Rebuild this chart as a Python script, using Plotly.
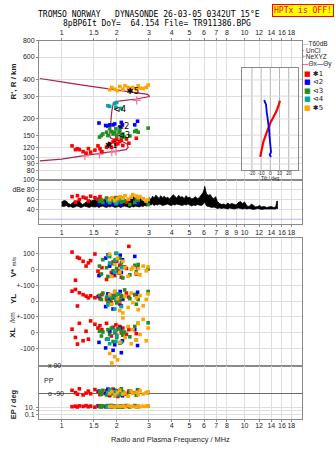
import numpy as np
import plotly.graph_objects as go

W, H = 335, 451

# ---------------- data ----------------
F_MIN, F_MAX = 0.752, 20.6

top_ticks = [1, 1.5, 2, 3, 4, 5, 6, 7, 8, 10, 12, 14, 16, 18]
mid_ticks = [1, 1.5, 2, 3, 4, 5, 6, 7, 8, 9, 10, 12, 14, 16, 18]
height_ticks = [80, 90, 100, 120, 150, 200, 300, 400, 600, 800]
tilt_ticks = [-20, -10, 0, 10, 20]
pp_ticks = [90, -90]
pp_labels = ["x 90", "o -90"]
TILT_MIN, TILT_MAX = -30.8, 30.1
INSET_H_MIN, INSET_H_MAX = 81, 498
PP_MIN, PP_MAX = -258, 91.3

# model virtual-height trace
trace_f = [0.76, 1.0, 1.3, 1.6, 1.9, 2.1, 2.25, 2.31, 2.28, 2.15, 1.95, 1.85, 1.83, 1.85, 1.88,
           1.92, 2.1, 2.56, 2.9, 3.03, 2.95, 2.8, 2.5, 2.2, 1.9, 1.6, 1.3, 1.0, 0.76]
trace_h = [95, 98, 104, 108, 112, 114, 116, 121, 128, 134, 137, 143, 150, 178, 230,
           268, 276, 285, 292, 298, 309, 312, 320, 327, 337, 350, 365, 386, 410]

# NeXYZ points
ne_f = [1.34, 1.61, 1.88, 1.98, 2.57]
ne_h = [104, 107, 111, 113, 278]

# echo classes
red_f = [1.14, 1.19, 1.22, 1.25, 1.31, 1.36, 1.40, 1.44, 1.52, 1.58, 1.62, 1.66, 1.76, 1.83, 1.87,
         1.91, 1.95, 1.98, 2.00, 2.03, 2.08, 2.12, 2.16, 2.26, 2.33, 2.56]
red_h = [124, 116, 118, 116, 112, 109, 118, 111, 115, 124, 118, 112, 121, 129, 121,
         133, 137, 127, 140, 129, 134, 139, 125, 140, 130, 142]
red_amp = [66, 55, 68, 60, 65, 63, 57, 67, 64, 61, 66, 58, 63, 60, 56, 62, 59, 64, 61, 57, 60, 63, 58, 55, 60, 57]
red_vs = [108, -69, 75, 69, 50, 20, 40, 54, 96, -12, -33, 10, -64, 30, -20, 45, -40, 60, 50, -10, 25, -50, 15, 5, 144, -30]
red_yl = [62, 73, -31, 52, 40, 31, 20, 33, 21, 28, 15, 40, 10, 25, -10, 35, 20, 5, 45, 15, -20, 30, 10, 50, 25, 40]
red_xl = [23, -29, -71, 60, -50, 10, -40, 75, 54, 30, 45, 20, 60, 10, -20, 35, 5, 50, -15, 25, 40, 0, 30, -10, 20, -5]
red_pp = [-70, -85, -95, -60, -100, -88, -75, -92, -65, -80, -98, -90, -72, -105, -85, -62, -94, -78, -88, -110,
          -70, -96, -83, -92, -75, -88]
red_ep = [15, 20, 12, 25, 18, 30, 14, 22, 11, 28, 16, 19, 24, 13, 35, 17, 21, 12, 26, 15, 18, 23, 14, 30, 16, 20]

blue_f = [1.60, 1.74, 1.79, 1.83, 1.91, 1.95, 2.09, 2.12, 2.15, 2.51, 2.60]
blue_h = [186, 178, 176, 180, 180, 183, 173, 188, 180, 180, 192]
blue_amp = [52, 50, 55, 53, 51, 56, 54, 50, 57, 58, 53]
blue_vs = [-40, 70, 90, 20, -30, 50, 88, -20, 60, 81, 10]
blue_yl = [30, -35, 45, 10, -50, 25, 60, -31, 15, 40, 55]
blue_xl = [-60, -95, -40, 10, -110, -75, 30, -125, -50, 20, -80]
blue_pp = [-75, -90, -62, -98, -85, -70, -95, -80, -105, -88, -68]
blue_ep = [20, 14, 28, 12, 18, 25, 15, 22, 11, 30, 16]

green_f = [1.61, 1.65, 1.68, 1.76, 1.79, 1.83, 1.87, 1.91, 1.95, 1.98, 2.00, 2.06, 2.08, 2.12, 2.16,
           2.21, 2.36, 2.51, 2.56, 2.62, 2.97]
green_h = [145, 149, 153, 158, 149, 168, 160, 153, 158, 168, 149, 158, 163, 145, 153,
           145, 148, 160, 163, 158, 170]
green_amp = [57, 60, 54, 62, 58, 55, 61, 59, 56, 63, 52, 58, 60, 55, 62, 57, 50, 54, 61, 59, 50]
green_vs = [20, -30, 60, 10, -45, 80, 35, -10, 55, 100, 5, -25, 70, 40, -55, 15, -35, 25, -15, 30, 2]
green_yl = [35, 10, 50, 25, -5, 40, 15, 30, 60, 20, -12, 45, 5, 35, 25, 70, 15, 40, -20, 10, 60]
green_xl = [10, -20, 5, -40, 20, -10, 30, -55, 0, 15, -30, 25, -65, 10, -15, 5, -25, 40, -45, 60, 63]
green_pp = [-80, -95, -70, -100, -88, -65, -92, -78, -105, -85, -72, -98, -90, -60, -82, -95, -75, -88, -102, -70, -85]
green_ep = [18, 12, 25, 15, 30, 20, 14, 22, 11, 27, 16, 19, 13, 24, 17, 21, 12, 26, 15, 18, 23]

cyan_f = [1.79, 1.83, 1.95, 1.98, 2.00, 2.12]
cyan_h = [253, 250, 263, 246, 268, 241]
cyan_amp = [58, 54, 60, 52, 56, 62]
cyan_vs = [85, 40, -20, 60, 100, 10]
cyan_yl = [-25, 30, -50, 10, 45, -35]
cyan_xl = [-40, -69, 15, -55, -20, -60]
cyan_pp = [-85, -70, -95, -78, -100, -88]
cyan_ep = [16, 22, 13, 27, 19, 14]

orange_f = [1.83, 1.88, 1.95, 2.02, 2.08, 2.16, 2.22, 2.31, 2.40, 2.45, 2.56, 2.62, 2.68, 2.79, 2.90, 2.97]
orange_h = [336, 350, 339, 330, 356, 339, 360, 350, 343, 350, 336, 360, 345, 343, 350, 365]
orange_amp = [60, 64, 58, 62, 66, 63, 68, 61, 65, 70, 67, 64, 66, 62, 57, 60]
orange_vs = [95, -45, 30, 70, -20, 50, 10, -44, 0, 12, -25, 5, -35, 20, -10, 15]
orange_yl = [40, -20, 60, 15, -60, -75, 30, -40, 50, -10, 20, -55, 35, -30, 10, 45]
orange_xl = [-130, -190, -150, -170, -60, 94, -30, 40, -69, 20, -45, 60, -10, 85, -50, 30]
orange_pp = [-92, -78, -100, -85, -70, -95, -88, -108, -75, -90, -82, -98, -72, -94, -86, -80]
orange_ep = [14, 20, 11, 26, 17, 22, 13, 30, 16, 19, 12, 24, 15, 21, 18, 25]

# class centroid labels
cls_text = ["✱1", "⊲2", "⊲3", "⊲4", "✱5"]
cls_f = [1.87, 2.17, 2.19, 2.08, 2.45]
cls_h = [125, 173, 147, 236, 324]

# received amplitude envelope (dB)
amp_f = [1.00, 1.03, 1.06, 1.09, 1.12, 1.15, 1.18, 1.21, 1.24, 1.27, 1.30, 1.33, 1.36, 1.39, 1.42, 1.45, 1.48,
         1.52, 1.56, 1.60, 1.64, 1.68, 1.72, 1.76, 1.80, 1.84, 1.88, 1.92, 1.96, 2.00, 2.05, 2.10, 2.15, 2.20,
         2.25, 2.30, 2.36, 2.42, 2.48, 2.54, 2.60, 2.66, 2.72, 2.78, 2.84, 2.90, 2.96,
         3.02, 3.08, 3.14, 3.20, 3.27, 3.34, 3.41, 3.48, 3.56, 3.64, 3.72, 3.80, 3.89, 3.98, 4.07, 4.16, 4.26,
         4.36, 4.46, 4.57, 4.68, 4.79, 4.90, 5.02, 5.14, 5.26, 5.39, 5.52, 5.65, 5.78, 5.92, 6.00, 6.06, 6.12,
         6.20, 6.35, 6.50, 6.65, 6.80, 6.95, 7.10, 7.30, 7.50, 7.70, 7.90, 8.10, 8.30, 8.50, 8.75, 9.00, 9.25,
         9.50, 9.75, 10.0, 10.3, 10.6, 10.9, 11.2, 11.5, 11.8, 12.1, 12.4, 12.8, 13.2, 13.6, 14.0, 14.4, 14.8,
         15.0, 15.2]
amp_hi = [55, 58, 57, 52, 50, 54, 57, 56, 59, 53, 50, 52, 55, 58, 60, 57, 59,
          60, 58, 62, 59, 57, 61, 63, 60, 58, 62, 64, 60, 59, 63, 61, 58, 62,
          60, 57, 61, 63, 66, 62, 60, 64, 61, 58, 56, 52, 57,
          64, 60, 67, 63, 69, 66, 62, 68, 64, 67, 63, 65, 61, 66, 70, 67, 63,
          69, 65, 66, 62, 68, 64, 65, 61, 63, 66, 62, 64, 69, 74, 80, 87, 79,
          71, 69, 70, 64, 62, 66, 56, 52, 50, 51, 49, 53, 50, 52, 51, 49, 54,
          56, 52, 55, 47, 46, 51, 47, 45, 46, 48, 45, 46, 44, 45, 46, 44, 45,
          57, 56]
amp_lo = [47, 46, 48, 45, 46, 44, 45, 47, 46, 44, 45, 47, 46, 45, 44, 46, 45,
          45, 46, 44, 46, 47, 45, 44, 46, 45, 47, 46, 44, 45, 46, 44, 45, 47,
          46, 45, 44, 46, 45, 47, 46, 45, 47, 46, 48, 47, 48,
          50, 49, 51, 48, 50, 49, 51, 50, 48, 49, 50, 51, 49, 48, 50, 49, 51,
          50, 49, 48, 50, 49, 51, 48, 47, 49, 48, 50, 49, 48, 50, 52, 55, 51,
          47, 46, 45, 44, 45, 43, 42, 43, 42, 43, 42, 41, 43, 42, 41, 42, 43,
          42, 41, 42, 41, 42, 41, 40, 41, 42, 41, 40, 41, 41, 40, 41, 40, 41,
          42, 42]
noise_db = 20

# tilt profile
tx_h = [102, 110, 120, 133, 150, 172, 190, 206, 232, 255, 277]
tx_deg = [-11, -10, -9, -7.6, -5, -2.2, 0.5, 3.3, 7, 9, 10.5]
ty_h = [281, 270, 260, 240, 225, 205, 188, 170, 158, 145, 133, 118, 111, 106, 102]
ty_deg = [-6.5, -6, -4.7, -4.5, -3.9, -3, -2.2, -1.5, -1.1, -0.8, -0.3, 0, 0.8, -0.7, 0.8]

# ---------------- styling ----------------
FRAME = "#8a8a8a"
GRID = "#dedede"
DARK = "#6a6a6a"
TXT = "#222222"
C_RED, C_BLUE, C_GREEN, C_CYAN, C_ORANGE = "#ff0000", "#0000ff", "#1f8f1f", "#00a6a6", "#ffa500"
CURVE = "#b3204c"
PINK = "#f07a9a"
SANS = "Liberation Sans, Arial, sans-serif"
MONO = "DejaVu Sans Mono, monospace"

PP_TOP, PP_BOTTOM = 365, 419   # pixel rows of the polarisation panel


def ydom(top, bottom):
    return [1 - bottom / H, 1 - top / H]


XDOM = [39 / W, 302 / W]
XRANGE = [np.log10(F_MIN), np.log10(F_MAX)]

classes = [
    (C_RED, red_f, red_h, red_amp, red_vs, red_yl, red_xl, red_pp, red_ep),
    (C_BLUE, blue_f, blue_h, blue_amp, blue_vs, blue_yl, blue_xl, blue_pp, blue_ep),
    (C_GREEN, green_f, green_h, green_amp, green_vs, green_yl, green_xl, green_pp, green_ep),
    (C_CYAN, cyan_f, cyan_h, cyan_amp, cyan_vs, cyan_yl, cyan_xl, cyan_pp, cyan_ep),
    (C_ORANGE, orange_f, orange_h, orange_amp, orange_vs, orange_yl, orange_xl, orange_pp, orange_ep),
]

fig = go.Figure()


def sq(color, x, y, xa, ya, size=3.6):
    fig.add_trace(go.Scatter(x=x, y=y, mode="markers", xaxis=xa, yaxis=ya, cliponaxis=False,
                             marker=dict(symbol="square", size=size, color=color, line=dict(width=0))))


# --- height panel ---
fig.add_trace(go.Scatter(x=trace_f, y=trace_h, mode="lines", xaxis="x", yaxis="y",
                         line=dict(color=CURVE, width=1.2)))
fig.add_trace(go.Scatter(x=ne_f, y=ne_h, mode="markers", xaxis="x", yaxis="y",
                         marker=dict(symbol="cross-thin", size=6, line=dict(color=PINK, width=1.2))))
for c in classes:
    sq(c[0], c[1], c[2], "x", "y")
fig.add_trace(go.Scatter(x=cls_f, y=cls_h, mode="text", text=cls_text, xaxis="x", yaxis="y",
                         textfont=dict(family="DejaVu Sans", size=8.5, color="black")))

# --- amplitude panel ---
fig.add_trace(go.Scatter(x=[F_MIN, F_MAX], y=[noise_db, noise_db], mode="lines", xaxis="x2", yaxis="y2",
                         line=dict(color="#b8b8ee", width=1)))
fig.add_trace(go.Scatter(x=amp_f, y=amp_lo, mode="lines", xaxis="x2", yaxis="y2",
                         line=dict(color="black", width=0.8)))
fig.add_trace(go.Scatter(x=amp_f, y=amp_hi, mode="lines", xaxis="x2", yaxis="y2", fill="tonexty",
                         fillcolor="black", line=dict(color="black", width=0.8)))
for c in classes:
    sq(c[0], c[1], c[3], "x2", "y2")

# --- V*, YL, XL panel (each band centred on its own zero line) ---
for c in classes:
    f = c[1]
    sq(c[0], f, [5 + v / 100 for v in c[4]], "x3", "y3")
    sq(c[0], f, [3 + v / 100 for v in c[5]], "x3", "y3")
    sq(c[0], f, [1 + v / 100 for v in c[6]], "x3", "y3")

# --- polarisation / EP panel ---
for c in classes:
    sq(c[0], c[1], c[7], "x4", "y4")
    sq(c[0], c[1], c[8], "x4", "y5")

# --- tilt inset: the two tilt components ---
fig.add_trace(go.Scatter(x=tx_deg, y=tx_h, mode="lines", xaxis="x6", yaxis="y6",
                         line=dict(color=C_RED, width=2.2)))
fig.add_trace(go.Scatter(x=ty_deg, y=ty_h, mode="lines", xaxis="x6", yaxis="y6",
                         line=dict(color=C_BLUE, width=1.8)))

tickfont = dict(family=SANS, size=7, color=TXT)


def xax(anchor, ticks_list, labels, side="bottom", standoff=None):
    d = dict(type="log", range=XRANGE, domain=XDOM, anchor=anchor, side=side, tickangle=0,
             tickvals=ticks_list, ticktext=[str(t) for t in ticks_list] if labels else None,
             showticklabels=labels, ticks="outside" if labels else "", ticklen=2, tickcolor=FRAME,
             showline=True, mirror=True, linecolor=FRAME, linewidth=1,
             showgrid=True, gridcolor=GRID, gridwidth=1, zeroline=False, tickfont=tickfont)
    if standoff is not None:
        d["ticklabelstandoff"] = standoff
    return d


layout = dict(
    width=W, height=H, margin=dict(l=0, r=0, t=0, b=0), autosize=False,
    paper_bgcolor="white", plot_bgcolor="white", showlegend=False,
    font=dict(family=SANS, size=7, color=TXT),
    xaxis=xax("y", top_ticks, True, side="top"),
    xaxis2=xax("y2", mid_ticks, True),
    xaxis3=xax("y3", top_ticks, False),
    xaxis4=xax("y4", top_ticks, True, standoff=-3),
    yaxis=dict(type="log", domain=ydom(38, 178), anchor="x",
               range=[np.log10(67.9), np.log10(801)], tickvals=height_ticks,
               ticktext=[str(t) for t in height_ticks], ticks="outside", ticklen=2, tickcolor=FRAME,
               showline=True, mirror=True, linecolor=FRAME, gridcolor=GRID, zeroline=False, tickfont=tickfont),
    yaxis2=dict(domain=ydom(178, 222), anchor="x2", range=[11.3, 100.3],
                tickvals=[40, 60, 80, 100], ticktext=["40", "60", "dBe 80", "100"],
                ticks="outside", ticklen=2, tickcolor=FRAME,
                showline=True, mirror=True, linecolor=FRAME, gridcolor=GRID, zeroline=False, tickfont=tickfont),
    yaxis7=dict(overlaying="y2", anchor="x2", range=[11.3, 100.3], tickvals=[20], ticktext=["dBn 20"],
                ticks="outside", ticklen=2, tickcolor=FRAME, showgrid=False, zeroline=False,
                side="left", tickfont=tickfont),
    yaxis3=dict(domain=ydom(237, 365), anchor="x3", range=[-1.06, 6.94],
                tickvals=[0, 1, 2, 3, 4, 5, 6],
                ticktext=["-100", "0", "+-100", "0", "+-100", "0", "100"],
                ticks="outside", ticklen=2, tickcolor=FRAME,
                showline=True, mirror=True, linecolor=FRAME, gridcolor=GRID, zeroline=False, tickfont=tickfont),
    yaxis4=dict(domain=ydom(PP_TOP, PP_BOTTOM), anchor="x4", range=[PP_MIN, PP_MAX],
                tickvals=pp_ticks, showticklabels=False,
                ticks="", showline=True, mirror=True, linecolor=FRAME,
                gridcolor=DARK, gridwidth=1, zeroline=False),
    yaxis5=dict(type="log", overlaying="y4", anchor="x4", side="left", range=[-2.43, 13],
                tickvals=[10, 1, 0.1], ticktext=["10.", "", "0.1"], ticks="outside", ticklen=2,
                tickcolor=FRAME, gridcolor=GRID, zeroline=False, tickfont=tickfont),
    xaxis6=dict(domain=[242 / W, 298 / W], anchor="y6", range=[TILT_MIN, TILT_MAX], tickangle=0,
                tickvals=tilt_ticks, ticktext=["-20", "-10", "0", "10", "20"], ticks="", ticklabelstandoff=-1,
                showline=True, mirror=True, linecolor=FRAME, showgrid=False, zeroline=False,
                tickfont=dict(family=SANS, size=4.6, color=TXT)),
    yaxis6=dict(type="log", domain=ydom(65, 168), anchor="x6",
                range=[np.log10(INSET_H_MIN), np.log10(INSET_H_MAX)],
                showgrid=False, showticklabels=False, ticks="", showline=True, mirror=True,
                linecolor=FRAME, zeroline=False),
)
fig.update_layout(**layout)

# inset reference grid, kept in the inset's own layer beneath the tilt curves
shapes = []
for t in tilt_ticks:
    shapes.append(dict(type="line", xref="x6", yref="y6", x0=t, x1=t, y0=INSET_H_MIN, y1=INSET_H_MAX,
                       line=dict(color="#b4b4b4", width=1), layer="below"))
for hv in height_ticks:
    if INSET_H_MIN < hv < INSET_H_MAX:
        shapes.append(dict(type="line", xref="x6", yref="y6", x0=TILT_MIN, x1=TILT_MAX, y0=hv, y1=hv,
                           line=dict(color="#dcdcdc", width=1), layer="below"))
fig.update_layout(shapes=shapes)

ann = []


def text(x, y, s, size=7, anchor="center", family=SANS, color=TXT, angle=0, **kw):
    ann.append(dict(x=x / W, y=1 - y / H, xref="paper", yref="paper", text=s, showarrow=False,
                    xanchor=anchor, yanchor="middle", textangle=angle,
                    font=dict(family=family, size=size, color=color), **kw))


text(149, 11.8, "TROMSO NORWAY   DYNASONDE 26-03-05 0342UT 15°E", size=8, family=MONO, color="black",
     borderpad=0)
text(157, 20.8, "8pBP6It DoY=  64.154 File= TR911386.BPG", size=8, family=MONO, color="black",
     borderpad=0)
text(302.5, 8, "HPTx is OFF!", size=8, family=MONO, color="#ff0000",
     bgcolor="#ffff00", bordercolor="#ff0000", borderwidth=1, borderpad=1)

# legend column
text(300, 41, '<span style="color:#aaaaaa">—</span>T60dB', size=6.5, anchor="left")
text(300, 47.5, '<span style="color:#000">·</span> UnCl', size=6.5, anchor="left")
text(300, 54, '<span style="color:%s">+</span>NeXYZ' % PINK, size=6.5, anchor="left")
text(300, 61, '<span style="color:%s">—</span>Θx<span style="color:%s">—</span>Θy' % (C_RED, C_BLUE),
     size=6.5, anchor="left")
for yy, col, lab in [(71, C_RED, "✱1"), (80, C_BLUE, "⊲2"), (89, C_GREEN, "⊲3"),
                     (97, C_CYAN, "⊲4"), (106, C_ORANGE, "✱5")]:
    text(302, yy, '<span style="color:%s">■</span> %s' % (col, lab), size=7, anchor="left",
         family="DejaVu Sans")

# polarisation tick labels sit inside the panel, on their lines
for pv, lab in zip(pp_ticks, pp_labels):
    row = PP_TOP + (PP_MAX - pv) / (PP_MAX - PP_MIN) * (PP_BOTTOM - PP_TOP)
    text(46, row, lab, size=7, anchor="left")

# axis labels
text(13, 79, "<b>R', R / km</b>", size=8, angle=-90)
text(13, 266, "<b>V*</b> <span style='font-size:6px'>m/s</span>", size=8, angle=-90)
text(13, 298, "<b>YL</b>", size=8, angle=-90)
text(13, 317, "/km", size=6.5, angle=-90)
text(13, 332, "<b>XL</b>", size=8, angle=-90)
text(13, 404, "<b>EP / deg</b>", size=7.5, angle=-90)
text(42, 380, "PP", size=7, anchor="left")
text(270, 176.2, "Tilt / deg", size=4.8)
text(170, 439, "Radio and Plasma Frequency / MHz", size=7.4)

fig.update_layout(annotations=ann)
fig.write_html("out.html")
